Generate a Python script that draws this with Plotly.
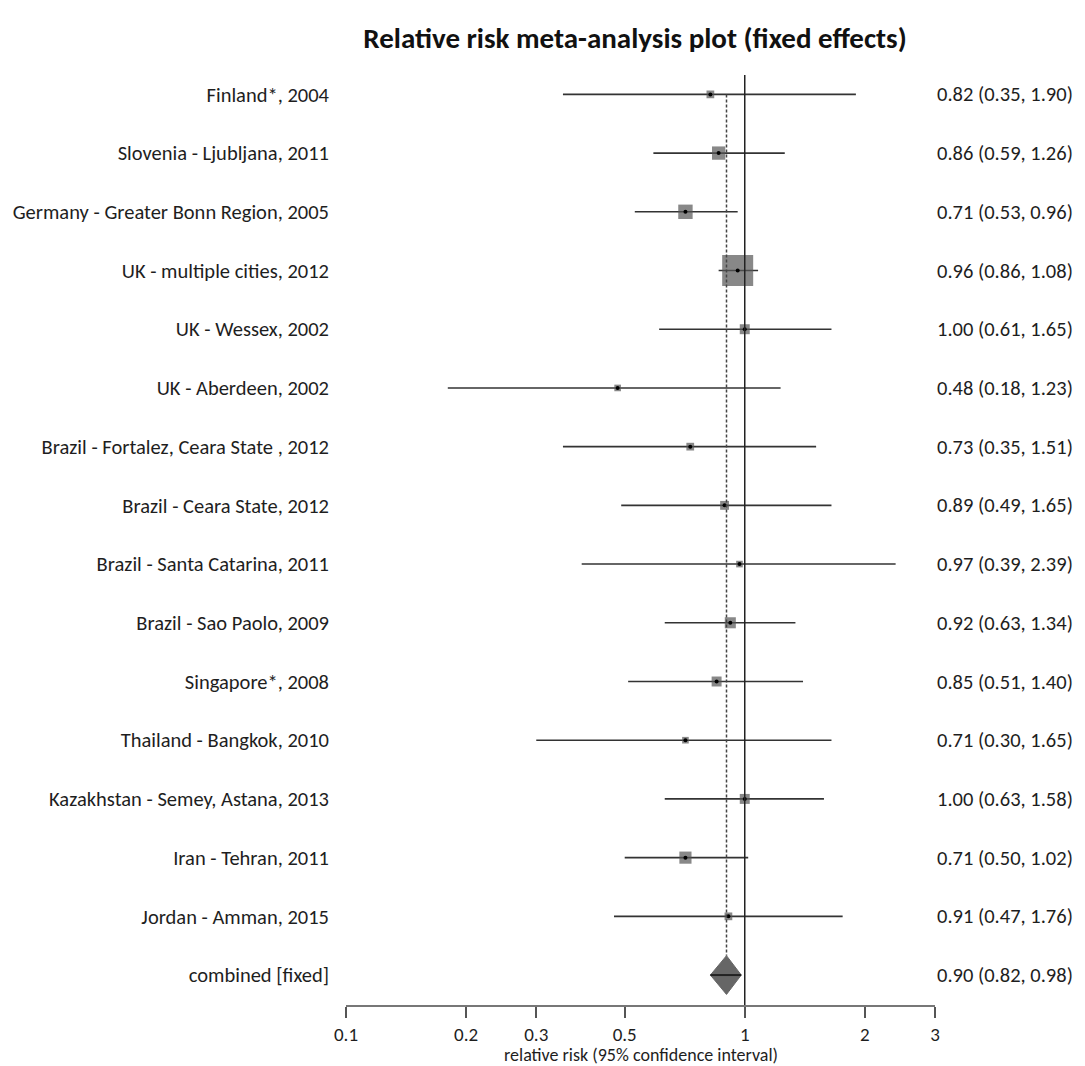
import math
import plotly.graph_objects as go

studies = [
    "Finland*, 2004",
    "Slovenia - Ljubljana, 2011",
    "Germany - Greater Bonn Region, 2005",
    "UK - multiple cities, 2012",
    "UK - Wessex, 2002",
    "UK - Aberdeen, 2002",
    "Brazil - Fortalez, Ceara State , 2012",
    "Brazil - Ceara State, 2012",
    "Brazil - Santa Catarina, 2011",
    "Brazil - Sao Paolo, 2009",
    "Singapore*, 2008",
    "Thailand - Bangkok, 2010",
    "Kazakhstan - Semey, Astana, 2013",
    "Iran - Tehran, 2011",
    "Jordan - Amman, 2015",
]
rr = [0.82, 0.86, 0.71, 0.96, 1.00, 0.48, 0.73, 0.89, 0.97, 0.92, 0.85, 0.71, 1.00, 0.71, 0.91]
lower = [0.35, 0.59, 0.53, 0.86, 0.61, 0.18, 0.35, 0.49, 0.39, 0.63, 0.51, 0.30, 0.63, 0.50, 0.47]
upper = [1.90, 1.26, 0.96, 1.08, 1.65, 1.23, 1.51, 1.65, 2.39, 1.34, 1.40, 1.65, 1.58, 1.02, 1.76]
weights = [2.6, 7.7, 9.0, 41.7, 4.3, 1.9, 2.6, 3.4, 1.9, 5.3, 4.3, 1.9, 4.3, 6.4, 2.6]

pooled_label = "combined [fixed]"
pooled_rr = 0.90
pooled_lower = 0.82
pooled_upper = 0.98

tick_vals = [0.1, 0.2, 0.3, 0.5, 1, 2, 3]
tick_text = ["0.1", "0.2", "0.3", "0.5", "1", "2", "3"]
x_title = "relative risk (95% confidence interval)"

FONT = "Carlito, Calibri, Lato, 'Liberation Sans Narrow', sans-serif"
TEXT_C = "#1e1e1e"
LINE_C = "#333333"
BOX_C = "#555555"

n = len(studies)
rows = list(range(n))
pool_row = n
labels = studies + [pooled_label]

fig = go.Figure()

# confidence interval lines
cx, cy = [], []
for i in rows:
    cx += [lower[i], upper[i], None]
    cy += [i, i, None]
fig.add_trace(go.Scatter(x=cx, y=cy, mode="lines",
                         line=dict(color=LINE_C, width=1.6),
                         hoverinfo="skip", showlegend=False))

# weighted boxes (area proportional to weight)
sizes = [4.8 * math.sqrt(w) for w in weights]
fig.add_trace(go.Scatter(x=rr, y=rows, mode="markers",
                         marker=dict(symbol="square", size=sizes, color=BOX_C,
                                     line=dict(width=0)),
                         showlegend=False))
# point centres
fig.add_trace(go.Scatter(x=rr, y=rows, mode="markers",
                         marker=dict(symbol="circle", size=4, color="#000000"),
                         hoverinfo="skip", showlegend=False))

# pooled estimate reference line (dashed)
half = 0.33
fig.add_trace(go.Scatter(x=[pooled_rr, pooled_rr], y=[0, pool_row - half], mode="lines",
                         line=dict(color="#444444", width=1.5, dash="3px,2px"),
                         hoverinfo="skip", showlegend=False))

# diamond
fig.add_trace(go.Scatter(
    x=[pooled_lower, pooled_rr, pooled_upper, pooled_rr, pooled_lower],
    y=[pool_row, pool_row - half, pool_row, pool_row + half, pool_row],
    mode="lines", fill="toself", fillcolor="#666666",
    line=dict(color="#666666", width=1), hoverinfo="skip", showlegend=False))
fig.add_trace(go.Scatter(x=[pooled_lower, pooled_upper], y=[pool_row, pool_row], mode="lines",
                         line=dict(color="#222222", width=2),
                         hoverinfo="skip", showlegend=False))

# line of no effect
fig.add_shape(type="line", xref="x", yref="paper", x0=1, x1=1, y0=0, y1=1,
              line=dict(color="#222222", width=1.5), layer="above")

# right-hand text
right_text = [f"{rr[i]:.2f} ({lower[i]:.2f}, {upper[i]:.2f})" for i in rows]
right_text.append(f"{pooled_rr:.2f} ({pooled_lower:.2f}, {pooled_upper:.2f})")
for i, t in enumerate(right_text):
    fig.add_annotation(x=1.2377, xref="paper", y=i, yref="y", text=t,
                       showarrow=False, xanchor="right", yanchor="middle",
                       font=dict(family=FONT, size=20.5, color=TEXT_C))

# x-axis title (placed as annotation to sit just below the tick labels)
fig.add_annotation(x=0.5, xref="paper", y=-(1055 - 1005) / 930, yref="paper",
                   text=x_title, showarrow=False, xanchor="center", yanchor="middle",
                   font=dict(family=FONT, size=18, color=TEXT_C))

fig.update_layout(
    width=1077, height=1058,
    margin=dict(l=338, r=150, t=67, b=61, autoexpand=False),
    plot_bgcolor="white", paper_bgcolor="white",
    font=dict(family=FONT, size=20, color=TEXT_C),
    title=dict(text="<b>Relative risk meta-analysis plot (fixed effects)</b>",
               x=627 / 1077, xref="container", xanchor="center",
               y=1 - 30 / 1058, yref="container", yanchor="middle",
               font=dict(family=FONT, size=29, color="#111111")),
    xaxis=dict(type="log", range=[math.log10(0.1), math.log10(3)],
               tickvals=tick_vals, ticktext=tick_text, automargin=False,
               ticks="outside", ticklen=11, tickwidth=1.5, tickcolor="#555555",
               showline=True, linecolor="#777777", linewidth=1.5,
               showgrid=False, zeroline=False,
               tickfont=dict(family=FONT, size=19, color=TEXT_C)),
    yaxis=dict(range=[pool_row + 0.51, -0.33], tickvals=list(range(n + 1)),
               ticktext=labels, showgrid=False, zeroline=False, showline=False,
               ticks="", ticklabelstandoff=16, automargin=False,
               tickfont=dict(family=FONT, size=20.5, color=TEXT_C)),
)

fig.write_html("out.html")
